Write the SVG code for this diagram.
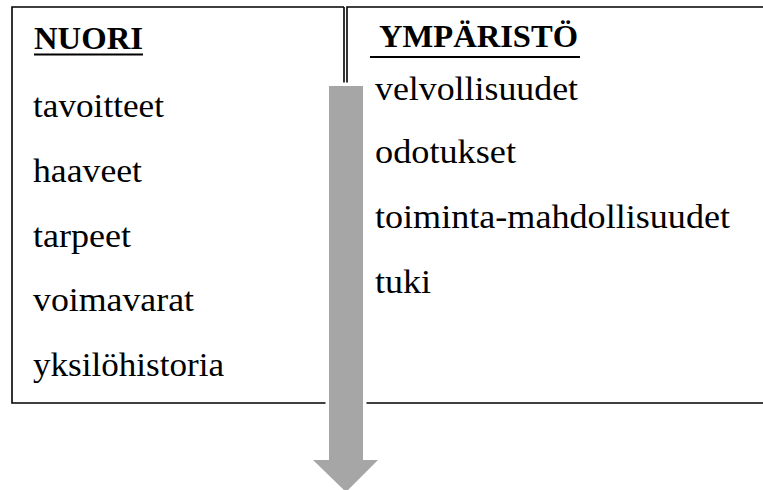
<svg xmlns="http://www.w3.org/2000/svg" width="763" height="490" viewBox="0 0 763 490">
<style>
.t{font-family:"Liberation Serif","Times New Roman",serif;font-size:33px;fill:#000}
.h{font-weight:bold;font-size:32px}
.ln{stroke:#000;stroke-width:1.6;fill:none}
.ul{stroke:#000;stroke-width:2}
</style>
<rect width="763" height="490" fill="#fff"/>
<g id="nuori">
<path class="ln" d="M344,7 H12 V403 H344"/>
<path class="ln" d="M344,7 V90"/>
<text class="t h" x="34" y="49" textLength="109" lengthAdjust="spacingAndGlyphs">NUORI</text>
<line class="ul" x1="34" y1="54.5" x2="143" y2="54.5"/>
<text class="t" x="33" y="117" textLength="131" lengthAdjust="spacingAndGlyphs">tavoitteet</text>
<text class="t" x="33" y="182" textLength="109" lengthAdjust="spacingAndGlyphs">haaveet</text>
<text class="t" x="33" y="247" textLength="98" lengthAdjust="spacingAndGlyphs">tarpeet</text>
<text class="t" x="33" y="311" textLength="161" lengthAdjust="spacingAndGlyphs">voimavarat</text>
<text class="t" x="33" y="376" textLength="191" lengthAdjust="spacingAndGlyphs">yksilöhistoria</text>
</g>
<g id="ymparisto">
<path class="ln" d="M347,90 V7 H770 V403 H347"/>
<text class="t h" x="379" y="47" textLength="199" lengthAdjust="spacingAndGlyphs">YMPÄRISTÖ</text>
<line class="ul" x1="370" y1="57" x2="580" y2="57"/>
<text class="t" x="375" y="100" textLength="203" lengthAdjust="spacingAndGlyphs">velvollisuudet</text>
<text class="t" x="375" y="163" textLength="141" lengthAdjust="spacingAndGlyphs">odotukset</text>
<text class="t" x="375" y="228" textLength="355" lengthAdjust="spacingAndGlyphs">toiminta-mahdollisuudet</text>
<text class="t" x="375" y="293" textLength="56" lengthAdjust="spacingAndGlyphs">tuki</text>
</g>
<g id="connectors">
<polygon points="329,86 363,86 363,460 378,460 346,492 313,460 329,460" fill="#a6a6a6" stroke="#fff" stroke-width="7" stroke-linejoin="miter" paint-order="stroke"/>
</g>
</svg>
